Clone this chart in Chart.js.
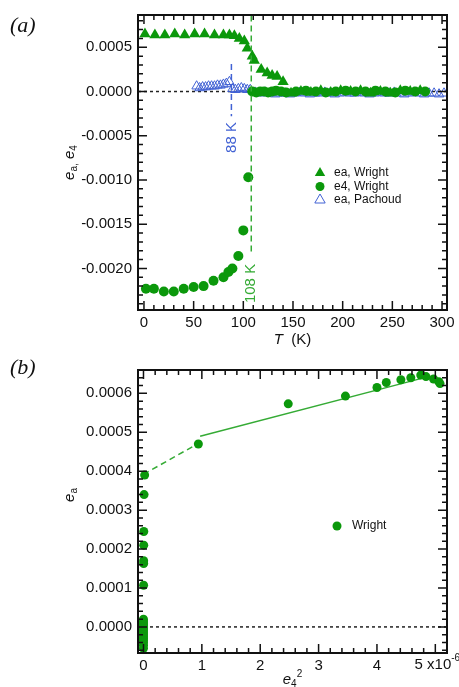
<!DOCTYPE html>
<html>
<head>
<meta charset="utf-8">
<script src="https://cdn.jsdelivr.net/npm/chart.js@4.4.1/dist/chart.umd.min.js"></script>
<style>
html, body { margin: 0; padding: 0; background: #fff; }
#wrapA { position: absolute; left: 0; top: 0; width: 459px; height: 355px; }
#wrapB { position: absolute; left: 0; top: 355px; width: 459px; height: 332px; }
</style>
</head>
<body>
<div id="wrapA"><canvas id="chartA" width="459" height="355"></canvas></div>
<div id="wrapB"><canvas id="chartB" width="459" height="332"></canvas></div>
<script>
// ---- panel (a): ea and e4 against temperature ----
const tEaWright = [1, 11, 21, 31, 41, 51, 61, 71, 80, 86, 91, 96, 101, 104, 109, 111, 118, 124, 129, 134, 140,
    148, 158, 168, 178, 188, 198, 208, 218, 228, 238, 248, 258, 268, 278];
const eaWright = [0.00065, 0.00064, 0.00064, 0.00065, 0.00064, 0.00065, 0.00065, 0.00064, 0.00064, 0.00064, 0.00063,
    0.00060, 0.00057, 0.00049, 0.00040, 0.00035, 0.00025, 0.00021, 0.00018, 0.00017, 0.00011,
    -0.00002, 0.00000, -0.00001, 0.00001, -0.00001, 0.00001, 0.00000, 0.00001, -0.00002, 0.00000, -0.00002, 0.00001, 0.00000, 0.00001];

const tE4Wright = [2, 10, 20, 30, 40, 50, 60, 70, 80, 85, 89, 95, 100, 105,
    109, 113, 117, 121, 125, 129, 133, 138, 143, 153, 163, 173, 183, 193, 203, 213, 223, 233, 243, 253, 263, 273, 283];
const e4Wright = [-0.00223, -0.00223, -0.00226, -0.00226, -0.00223, -0.00221, -0.00220, -0.00214, -0.00210, -0.00204, -0.00200, -0.00186, -0.00157, -0.00097,
    0.00000, -0.00001, 0.00000, 0.00000, -0.00001, 0.00000, 0.00001, 0.00000, -0.00001, 0.00000, 0.00001, 0.00000,
    -0.00001, 0.00000, 0.00001, 0.00000, 0.00000, 0.00001, 0.00000, -0.00001, 0.00001, 0.00000, 0.00000];

const tEaPachoud = [53, 56, 59, 62, 65, 68, 71, 74, 77, 80, 83, 86, 89, 92, 95, 98, 101, 104, 107,
    112, 117, 122, 127, 132, 137, 142, 147, 152, 157, 162, 167, 172, 177, 182, 187, 192, 197, 202, 207,
    212, 217, 222, 227, 232, 237, 242, 247, 252, 257, 262, 267, 272, 277, 282, 287, 292, 297, 302];
const eaPachoud = [0.00006, 0.00004, 0.00005, 0.00005, 0.00006, 0.00006, 0.00006, 0.00007, 0.00007, 0.00008, 0.00009, 0.00011,
    0.00003, 0.00002, 0.00003, 0.00004, 0.00003, 0.00002, 0.00002,
    -0.00001, -0.00002, -0.00001, -0.00002, -0.00003, -0.00002, -0.00002, -0.00003, -0.00002, -0.00001, -0.00002, -0.00003,
    -0.00002, -0.00002, -0.00001, -0.00002, -0.00003, -0.00002, -0.00001, -0.00002, -0.00002, -0.00001, -0.00002, -0.00003,
    -0.00002, -0.00001, -0.00002, -0.00002, -0.00001, -0.00002, -0.00003, -0.00002, -0.00001, -0.00002, -0.00003, -0.00002,
    -0.00002, -0.00003, -0.00002];

const tTicksA = [0, 50, 100, 150, 200, 250, 300];
const yTicksA = [-0.002, -0.0015, -0.001, -0.0005, 0, 0.0005];

// ---- panel (b): ea against e4 squared (x in units of 1e-6) ----
const e4sqWright = [0.02, 0.01, 0.005, 0.004, 0.003, 0.003, 0.002,
    0, 0, 0, 0, 0, 0, 0, 0, 0, 0, 0, 0, 0, 0, 0,
    0.94, 2.48, 3.46, 4.0, 4.16, 4.41, 4.58, 4.75, 4.84, 4.97, 5.06, 5.08];
const eaWrightB = [0.00039, 0.00034, 0.000245, 0.00021, 0.00017, 0.000163, 0.000107,
    0.00002, 0.000015, 0.00001, 0.000005, 0, -0.000005, -0.00001, -0.000015, -0.00002, -0.000025, -0.00003, -0.000035, -0.00004, -0.000047, -0.000055,
    0.00047, 0.000573, 0.000593, 0.000615, 0.000628, 0.000635, 0.00064, 0.000647, 0.000643, 0.000637, 0.00063, 0.000625];
const fitDashX = [0, 0.9];
const fitDashY = [0.000392, 0.000468];
const fitX = [0.97, 4.88];
const fitY = [0.00049, 0.000643];

const xTicksB = [0, 1, 2, 3, 4, 5];
const yTicksB = [0, 0.0001, 0.0002, 0.0003, 0.0004, 0.0005, 0.0006];

const GREEN = '#0b980b';
const GREEN_LINE = '#35ab35';
const BLUE = '#4262d4';
const FONT = '"Liberation Sans", Arial, Helvetica, sans-serif';

function pts(xs, ys) {
    return xs.map((v, i) => ({x: v, y: ys[i]}));
}

// text with italic / subscript / superscript pieces, centred on x
function richText(ctx, parts, x, y, size) {
    const fontOf = p => {
        const small = p[1] === 'sub' || p[1] === 'sup';
        return (p[1] === 'i' ? 'italic ' : '') + (small ? Math.round(size * 0.68) : size) + 'px ' + FONT;
    };
    let w = 0;
    parts.forEach(p => { ctx.font = fontOf(p); w += ctx.measureText(p[0]).width; });
    let cx = x - w / 2;
    ctx.textAlign = 'left';
    ctx.textBaseline = 'middle';
    parts.forEach(p => {
        ctx.font = fontOf(p);
        let dy = 0;
        if (p[1] === 'sub') dy = size * 0.3;
        if (p[1] === 'sup') dy = -size * 0.4;
        ctx.fillText(p[0], cx, y + dy);
        cx += ctx.measureText(p[0]).width;
    });
}

function frameAndTicks(chart, xStep, xEvery, yStep, yEvery) {
    const ctx = chart.ctx;
    const a = chart.chartArea;
    const xs = chart.scales.x, ys = chart.scales.y;
    ctx.save();
    ctx.strokeStyle = '#111';
    ctx.lineWidth = 1.5;
    ctx.beginPath();
    for (let i = Math.ceil(xs.min / xStep - 1e-9); i * xStep <= xs.max + 1e-9; i++) {
        const px = xs.getPixelForValue(i * xStep);
        const len = i % xEvery === 0 ? 9 : 5;
        ctx.moveTo(px, a.bottom); ctx.lineTo(px, a.bottom - len);
        ctx.moveTo(px, a.top); ctx.lineTo(px, a.top + len);
    }
    for (let i = Math.ceil(ys.min / yStep - 1e-9); i * yStep <= ys.max + 1e-12; i++) {
        const py = ys.getPixelForValue(i * yStep);
        const len = i % yEvery === 0 ? 9 : 5;
        ctx.moveTo(a.left, py); ctx.lineTo(a.left + len, py);
        ctx.moveTo(a.right, py); ctx.lineTo(a.right - len, py);
    }
    ctx.stroke();
    ctx.lineWidth = 2;
    ctx.strokeRect(a.left, a.top, a.right - a.left, a.bottom - a.top);
    ctx.restore();
}

function zeroLine(chart) {
    const ctx = chart.ctx;
    const a = chart.chartArea;
    const py = chart.scales.y.getPixelForValue(0);
    ctx.save();
    ctx.strokeStyle = '#222';
    ctx.lineWidth = 1.5;
    ctx.setLineDash([3, 3]);
    ctx.beginPath();
    ctx.moveTo(a.left, py);
    ctx.lineTo(a.right, py);
    ctx.stroke();
    ctx.restore();
}

function marker(ctx, kind, x, y, r, color) {
    ctx.save();
    ctx.fillStyle = color;
    ctx.strokeStyle = color;
    ctx.lineWidth = 1;
    ctx.beginPath();
    if (kind === 'circle') {
        ctx.arc(x, y, r, 0, Math.PI * 2);
        ctx.fill();
    } else {
        ctx.moveTo(x, y - r);
        ctx.lineTo(x + r * 0.866, y + r * 0.5);
        ctx.lineTo(x - r * 0.866, y + r * 0.5);
        ctx.closePath();
        if (kind === 'triangle') ctx.fill(); else ctx.stroke();
    }
    ctx.restore();
}

function transition(chart, t, yFrom, yTo, label, yLabel, color) {
    const ctx = chart.ctx;
    const xs = chart.scales.x, ys = chart.scales.y;
    const px = xs.getPixelForValue(t);
    ctx.save();
    ctx.strokeStyle = color;
    ctx.lineWidth = 1.5;
    ctx.setLineDash([6, 4]);
    ctx.beginPath();
    ctx.moveTo(px, ys.getPixelForValue(yFrom));
    ctx.lineTo(px, ys.getPixelForValue(yTo));
    ctx.stroke();
    ctx.translate(px, ys.getPixelForValue(yLabel));
    ctx.rotate(-Math.PI / 2);
    ctx.fillStyle = color;
    ctx.font = '15px ' + FONT;
    ctx.textAlign = 'center';
    ctx.textBaseline = 'middle';
    ctx.fillText(label, 0, 0);
    ctx.restore();
}

const decorA = {
    id: 'decorA',
    beforeDatasetsDraw(chart) {
        zeroLine(chart);
    },
    afterDatasetsDraw(chart) {
        transition(chart, 88, 0.00031, -0.00028, '88 K', -0.00052, BLUE);
        transition(chart, 108, 0.00086, -0.00184, '108 K', -0.00217, GREEN_LINE);
    },
    afterDraw(chart) {
        const ctx = chart.ctx;
        const a = chart.chartArea;
        frameAndTicks(chart, 10, 5, 0.0001, 5);

        ctx.save();
        ctx.fillStyle = '#111';
        ctx.font = 'italic 22px "Liberation Serif", "Times New Roman", serif';
        ctx.textAlign = 'left';
        ctx.textBaseline = 'middle';
        ctx.fillText('(a)', 10, 26);

        richText(ctx, [['T', 'i'], ['  (K)', '']], (a.left + a.right) / 2, 340, 15);

        ctx.translate(70, (a.top + a.bottom) / 2);
        ctx.rotate(-Math.PI / 2);
        richText(ctx, [['e', 'i'], ['a', 'sub'], [',', 'sub'], [' e', 'i'], ['4', 'sub']], 0, 0, 15);
        ctx.restore();

        // legend
        const items = [['triangle', GREEN, 'ea, Wright'], ['circle', GREEN, 'e4, Wright'], ['open', BLUE, 'ea, Pachoud']];
        items.forEach((it, i) => {
            const y = 173 + i * 13.5;
            marker(ctx, it[0], 320, y, it[0] === 'circle' ? 4.5 : 6, it[1]);
            ctx.save();
            ctx.fillStyle = '#111';
            ctx.font = '12px ' + FONT;
            ctx.textAlign = 'left';
            ctx.textBaseline = 'middle';
            ctx.fillText(it[2], 334, y);
            ctx.restore();
        });
    }
};

const decorB = {
    id: 'decorB',
    beforeDatasetsDraw(chart) {
        zeroLine(chart);
    },
    afterDraw(chart) {
        const ctx = chart.ctx;
        const a = chart.chartArea;
        frameAndTicks(chart, 0.2, 5, 0.00002, 5);

        ctx.save();
        ctx.fillStyle = '#111';
        ctx.font = 'italic 22px "Liberation Serif", "Times New Roman", serif';
        ctx.textAlign = 'left';
        ctx.textBaseline = 'middle';
        ctx.fillText('(b)', 10, 13);

        richText(ctx, [['5 x10', ''], ['-6', 'sup']], chart.scales.x.getPixelForValue(5) + 2, a.bottom + 11.5, 15);
        richText(ctx, [['e', 'i'], ['4', 'sub'], ['2', 'sup']], (a.left + a.right) / 2, 325, 15);

        ctx.translate(70, 140);
        ctx.rotate(-Math.PI / 2);
        richText(ctx, [['e', 'i'], ['a', 'sub']], 0, 0, 15);
        ctx.restore();

        marker(ctx, 'circle', 337, 171, 4.5, GREEN);
        ctx.save();
        ctx.fillStyle = '#111';
        ctx.font = '12px ' + FONT;
        ctx.textAlign = 'left';
        ctx.textBaseline = 'middle';
        ctx.fillText('Wright', 352, 171);
        ctx.restore();
    }
};

function axis(min, max, ticks, fmt, isY, size) {
    return {
        type: 'linear',
        min: min,
        max: max,
        grid: {display: false, drawTicks: false},
        border: {display: false},
        afterBuildTicks: s => { s.ticks = ticks.map(v => ({value: v})); },
        afterFit: s => { if (isY) s.width = size; else s.height = size; },
        ticks: {
            color: '#111',
            padding: isY ? 6 : 4,
            font: {family: FONT, size: 15},
            callback: fmt,
            maxRotation: 0,
            autoSkip: false
        }
    };
}

new Chart(document.getElementById('chartA').getContext('2d'), {
    type: 'scatter',
    data: {
        datasets: [{
            label: 'ea, Wright',
            data: pts(tEaWright, eaWright),
            pointStyle: 'triangle',
            pointRadius: 6.5,
            backgroundColor: GREEN,
            borderColor: GREEN,
            borderWidth: 0
        }, {
            label: 'e4, Wright',
            data: pts(tE4Wright, e4Wright),
            pointStyle: 'circle',
            pointRadius: 5,
            backgroundColor: GREEN,
            borderColor: GREEN,
            borderWidth: 0
        }, {
            label: 'ea, Pachoud',
            data: pts(tEaPachoud, eaPachoud),
            pointStyle: 'triangle',
            pointRadius: 5.5,
            backgroundColor: 'rgba(0,0,0,0)',
            borderColor: BLUE,
            borderWidth: 1
        }]
    },
    options: {
        responsive: false,
        animation: false,
        layout: {padding: {top: 14, right: 12, left: 0, bottom: 0}},
        scales: {
            x: axis(-6, 305, tTicksA, v => String(v), false, 45),
            y: axis(-0.00247, 0.000865, yTicksA, v => v.toFixed(4), true, 138)
        },
        plugins: {legend: {display: false}, tooltip: {enabled: false}}
    },
    plugins: [decorA]
});

new Chart(document.getElementById('chartB').getContext('2d'), {
    type: 'scatter',
    data: {
        datasets: [{
            label: 'Wright',
            data: pts(e4sqWright, eaWrightB),
            pointStyle: 'circle',
            pointRadius: 4.5,
            backgroundColor: GREEN,
            borderColor: GREEN,
            borderWidth: 0
        }, {
            label: 'fit, dashed',
            data: pts(fitDashX, fitDashY),
            showLine: true,
            pointRadius: 0,
            borderColor: GREEN_LINE,
            borderWidth: 1.5,
            borderDash: [6, 4]
        }, {
            label: 'fit',
            data: pts(fitX, fitY),
            showLine: true,
            pointRadius: 0,
            borderColor: GREEN_LINE,
            borderWidth: 1.5
        }]
    },
    options: {
        responsive: false,
        animation: false,
        layout: {padding: {top: 5, right: 12, left: 0, bottom: 0}},
        scales: {
            x: axis(-0.094, 5.2, xTicksB, v => (v === 5 ? '' : String(v)), false, 34),
            y: axis(-0.000067, 0.00066, yTicksB, v => v.toFixed(4), true, 138)
        },
        plugins: {legend: {display: false}, tooltip: {enabled: false}}
    },
    plugins: [decorB]
});
</script>
</body>
</html>
